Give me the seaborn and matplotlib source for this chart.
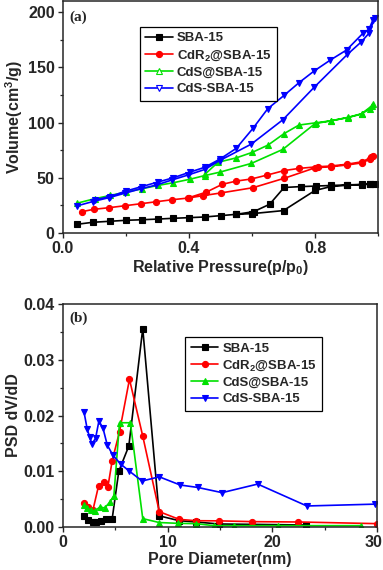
import numpy as np
import pandas as pd
import matplotlib
matplotlib.use("Agg")
import matplotlib.pyplot as plt
from matplotlib.ticker import MultipleLocator, FormatStrFormatter
from matplotlib.transforms import ScaledTranslation
import seaborn as sns

# ---------------- Data: panel (a) N2 isotherms (adsorption then desorption) ----------------
series_names = ["SBA-15", "CdR$_2$@SBA-15", "CdS@SBA-15", "CdS-SBA-15"]

sba_p = [0.045, 0.095, 0.148, 0.2, 0.25, 0.3, 0.35, 0.4, 0.45, 0.5, 0.55, 0.6, 0.7, 0.8, 0.85, 0.9, 0.95, 0.975, 0.99,
         0.975, 0.95, 0.9, 0.85, 0.804, 0.755, 0.702, 0.656, 0.605, 0.55]
sba_v = [7.9, 9.7, 10.6, 11.5, 12.0, 12.6, 13.3, 13.9, 14.5, 15.7, 16.9, 17.5, 20.3, 38.5, 42.0, 43.2, 43.8, 44.2, 44.6,
         44.4, 44.0, 43.5, 43.0, 42.5, 42.0, 41.2, 26.0, 19.3, 16.9]

cdr_p = [0.06, 0.097, 0.146, 0.197, 0.247, 0.296, 0.346, 0.396, 0.444, 0.5, 0.603, 0.702, 0.8, 0.85, 0.9, 0.95, 0.975, 0.985,
         0.978, 0.95, 0.9, 0.85, 0.81, 0.75, 0.702, 0.649, 0.598, 0.55, 0.505, 0.455, 0.4]
cdr_v = [19.3, 21.4, 22.9, 24.7, 26.5, 28.3, 30.1, 31.6, 33.8, 36.2, 41.0, 49.5, 59.0, 60.0, 61.5, 63.5, 67.0, 69.5,
         68.5, 64.5, 62.2, 60.6, 60.0, 58.5, 56.5, 52.5, 48.9, 47.0, 44.0, 37.0, 32.0]

cds_at_p = [0.045, 0.1, 0.15, 0.2, 0.25, 0.3, 0.35, 0.402, 0.45, 0.497, 0.598, 0.698, 0.8, 0.852, 0.905, 0.948, 0.974, 0.985,
            0.98, 0.948, 0.905, 0.852, 0.804, 0.749, 0.702, 0.651, 0.601, 0.55, 0.492, 0.45]
cds_at_v = [27.0, 31.0, 34.0, 37.0, 40.0, 43.0, 45.5, 48.6, 52.0, 55.0, 63.0, 75.7, 99.0, 101.6, 104.5, 107.7, 112.5, 117.0,
            115.0, 108.0, 104.7, 101.6, 99.8, 97.7, 90.0, 79.6, 73.0, 68.0, 64.0, 53.0]

cds_dash_p = [0.044, 0.095, 0.146, 0.196, 0.247, 0.296, 0.346, 0.397, 0.45, 0.497, 0.598, 0.698, 0.797, 0.903, 0.947, 0.972, 0.99,
              0.984, 0.971, 0.952, 0.9, 0.849, 0.797, 0.749, 0.702, 0.65, 0.603, 0.55, 0.497, 0.45, 0.402, 0.35, 0.3, 0.25, 0.2, 0.15, 0.1]
cds_dash_v = [24.5, 28.5, 32.0, 36.0, 40.0, 43.4, 48.0, 52.5, 57.5, 65.5, 80.5, 102.5, 131.8, 161.7, 173.0, 181.0, 195.0,
              192.8, 184.3, 180.7, 165.6, 156.6, 146.6, 136.0, 124.6, 112.5, 94.7, 76.6, 66.7, 59.5, 55.0, 50.0, 46.0, 42.0, 38.0, 33.0, 30.0]

# ---------------- Data: panel (b) pore size distribution ----------------
sba_d = [1.97, 2.38, 2.86, 3.18, 3.59, 4.13, 4.7, 5.33, 6.29, 7.62, 9.2, 11.1, 12.7, 14.9, 23.2]
sba_psd = [0.00197, 0.00126, 0.00096, 0.00084, 0.00113, 0.00149, 0.00149, 0.0100, 0.01453, 0.0356, 0.00200, 0.00113, 0.0009, 0.00054, 0.00036]

cdr_d = [1.97, 2.38, 2.86, 3.4, 3.88, 4.29, 4.7, 5.4, 6.35, 7.62, 9.2, 11.1, 12.7, 14.9, 18.1, 22.5, 30.0]
cdr_psd = [0.00425, 0.00353, 0.00305, 0.0074, 0.0080, 0.0072, 0.0119, 0.0171, 0.0265, 0.0163, 0.00275, 0.00137, 0.00113, 0.00110, 0.00096, 0.00090, 0.0006]

cds_at_d = [1.97, 2.29, 2.7, 3.02, 3.56, 3.97, 4.45, 4.86, 5.4, 6.44, 7.62, 9.2, 10.95, 12.7, 14.4, 16.3, 20.5, 28.5]
cds_at_psd = [0.0039, 0.0034, 0.0030, 0.0029, 0.0036, 0.0034, 0.0044, 0.0056, 0.0187, 0.0187, 0.0015, 0.0008, 0.00066, 0.0006, 0.00024, 0.00024, 0.00024, 0.00024]

cds_dash_d = [2.0, 2.32, 2.54, 2.76, 3.11, 3.43, 3.81, 4.23, 4.76, 5.5, 6.35, 7.56, 9.2, 11.2, 12.86, 15.2, 18.6, 23.3, 29.8]
cds_dash_psd = [0.0207, 0.0175, 0.0162, 0.0149, 0.0159, 0.0190, 0.0178, 0.0147, 0.0129, 0.0113, 0.0100, 0.00825, 0.0090, 0.00753, 0.0071, 0.00616, 0.0077, 0.00377, 0.0041]

colors = ["#000000", "#ff0000", "#00e000", "#0000ff"]
markers_a = ["s", "o", "^", "v"]
markers_b = ["s", "o", "^", "v"]

iso = [(sba_p, sba_v), (cdr_p, cdr_v), (cds_at_p, cds_at_v), (cds_dash_p, cds_dash_v)]
psd = [(sba_d, sba_psd), (cdr_d, cdr_psd), (cds_at_d, cds_at_psd), (cds_dash_d, cds_dash_psd)]

sns.set_style("ticks")
plt.rcParams["font.family"] = ["Liberation Sans", "DejaVu Sans"]
plt.rcParams["font.weight"] = "bold"
plt.rcParams["axes.labelweight"] = "bold"
plt.rcParams["axes.linewidth"] = 1.1
plt.rcParams["mathtext.default"] = "regular"

fig = plt.figure(figsize=(3.83, 5.70), dpi=100)
ax1 = fig.add_axes([63 / 383, 1 - 233 / 570, 315 / 383, 232 / 570])
ax2 = fig.add_axes([63 / 383, 1 - 527 / 570, 314 / 383, 223 / 570])

for name, (x, y), c, m in zip(series_names, iso, colors, markers_a):
    df = pd.DataFrame({"x": x, "y": y})
    sns.lineplot(data=df, x="x", y="y", sort=False, ax=ax1, color=c, marker=m,
                 markersize=4.4, markeredgecolor=c, markeredgewidth=0.8, linewidth=1.2,
                 label=name, estimator=None)

for name, (x, y), c, m in zip(series_names, psd, colors, markers_b):
    df = pd.DataFrame({"x": x, "y": y})
    sns.lineplot(data=df, x="x", y="y", sort=False, ax=ax2, color=c, marker=m,
                 markersize=4.4, markeredgecolor=c, markeredgewidth=0.8, linewidth=1.2,
                 label=name, estimator=None)

fs_tick = 11.5
fs_lab = 11.5

ax1.set_xlim(0, 1.0)
ax1.set_ylim(0, 210)
ax1.xaxis.set_major_locator(MultipleLocator(0.4))
ax1.xaxis.set_minor_locator(MultipleLocator(0.2))
ax1.yaxis.set_major_locator(MultipleLocator(50))
ax1.yaxis.set_minor_locator(MultipleLocator(25))
ax1.xaxis.set_major_formatter(FormatStrFormatter("%.1f"))
ax1.set_xlabel("Relative Pressure(p/p$_0$)", fontsize=fs_lab, fontweight="bold", labelpad=1)
ax1.set_ylabel("Volume(cm$^3$/g)", fontsize=fs_lab, fontweight="bold", labelpad=2)

ax2.set_xlim(0, 30)
ax2.set_ylim(0, 0.04)
ax2.xaxis.set_major_locator(MultipleLocator(10))
ax2.xaxis.set_minor_locator(MultipleLocator(5))
ax2.yaxis.set_major_locator(MultipleLocator(0.01))
ax2.yaxis.set_minor_locator(MultipleLocator(0.005))
ax2.yaxis.set_major_formatter(FormatStrFormatter("%.2f"))
ax2.set_xlabel("Pore Diameter(nm)", fontsize=fs_lab, fontweight="bold", labelpad=1)
ax2.set_ylabel("PSD dV/dD", fontsize=fs_lab, fontweight="bold", labelpad=2)

for ax in (ax1, ax2):
    ax.tick_params(axis="both", which="major", direction="out", length=3.5, width=1.0,
                   labelsize=fs_tick, top=False, right=False, pad=2.5)
    ax.tick_params(axis="both", which="minor", direction="out", length=2.2, width=0.9,
                   top=False, right=False)
    for lbl in ax.get_xticklabels() + ax.get_yticklabels():
        lbl.set_fontweight("bold")

# nudge the "30" x tick label of panel (b) so it stays inside the figure
fig.canvas.draw()
for tick in ax2.xaxis.get_major_ticks():
    if tick.label1.get_text() == "30":
        tick.label1.set_transform(tick.label1.get_transform()
                                  + ScaledTranslation(-3 / 100, 0, fig.dpi_scale_trans))

leg_kw = dict(frameon=True, fancybox=False, framealpha=1, edgecolor="black",
              prop={"weight": "bold", "size": 9.5}, handlelength=2.1, handletextpad=0.3,
              borderpad=0.4, labelspacing=0.3, borderaxespad=0)
leg1 = ax1.legend(loc="upper left", bbox_to_anchor=(0.244, 0.888), **leg_kw)
leg1.get_frame().set_linewidth(0.9)
for h in leg1.legend_handles[2:]:
    h.set_markerfacecolor("white")
leg2 = ax2.legend(loc="upper left", bbox_to_anchor=(0.39, 0.852), **leg_kw)
leg2.get_frame().set_linewidth(0.9)

ax1.text(0.02, 0.93, "(a)", transform=ax1.transAxes, fontsize=11, fontweight="bold",
         family="Liberation Serif", va="center", ha="left")
ax2.text(0.02, 0.937, "(b)", transform=ax2.transAxes, fontsize=11, fontweight="bold",
         family="Liberation Serif", va="center", ha="left")

fig.savefig("out.png", dpi=100)
